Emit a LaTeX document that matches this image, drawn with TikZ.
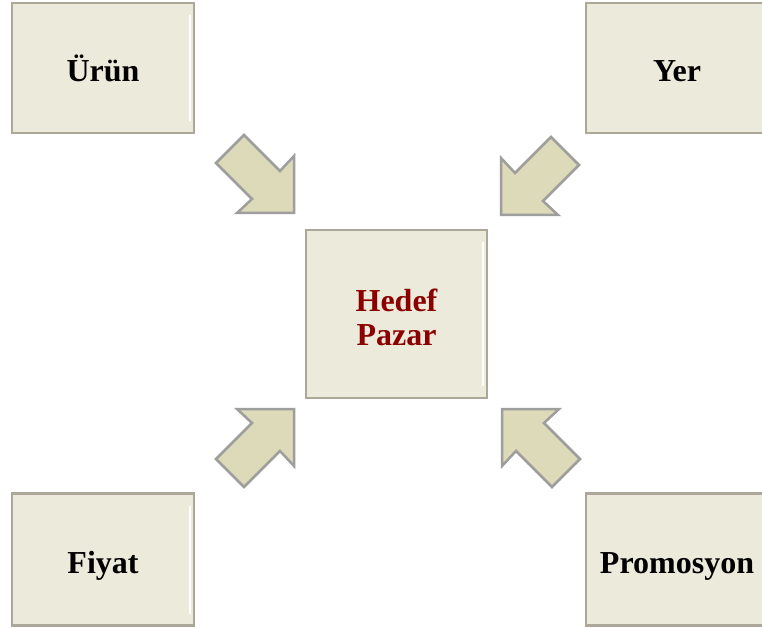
\documentclass[tikz,border=0pt]{standalone}
\usepackage{fontspec}
\setmainfont{Liberation Serif}
\definecolor{boxfill}{HTML}{ECEBDB}
\definecolor{boxline}{HTML}{ACA899}
\definecolor{arrfill}{HTML}{DCDAB8}
\definecolor{arrline}{HTML}{9E9E9C}
\definecolor{dred}{HTML}{8B0000}
\tikzset{
  bigtext/.style={font=\fontsize{32}{36}\selectfont\bfseries},
  box/.style={draw=boxline, fill=boxfill, line width=2.5pt, minimum width=182pt,
    minimum height=130pt, inner sep=0pt, align=center, bigtext,
    text height=27.5pt, text depth=0pt,
    path picture={\draw[white, line width=1.2pt]
      ([xshift=-4pt,yshift=-12pt]path picture bounding box.north east) --
      ([xshift=-4pt,yshift=12pt]path picture bounding box.south east);}},
  redline/.style={bigtext, text=dred, anchor=base, inner sep=0pt},
  arrowshape/.style={draw=arrline, fill=arrfill, line width=2.5pt, line join=miter}
}
\newcommand\blockarr[1]{%
  \begin{scope}[#1]
    \draw[arrowshape] (0,0) -- (0,-57) -- (-14,-42) -- (-50,-78) -- (-78,-50) -- (-42,-14) -- (-57,0) -- cycle;
  \end{scope}}
\begin{document}
\begin{tikzpicture}[x=1pt,y=-1pt]
\useasboundingbox[fill=white] (0,0) rectangle (762,628);
\node[box] (urun) at (103,68) {Ürün};
\node[box] (yer) at (677,68) {Yer};
\node[box, minimum height=132pt] (fiyat) at (103,559.5) {Fiyat};
\node[box, minimum height=132pt] (promo) at (677,559.5) {Promosyon};
\node[box, minimum width=181pt, minimum height=168pt] (hedef) at (396.5,314) {};
\node[redline] (hedef1) at (396.5,311.5) {Hedef};
\node[redline] (hedef2) at (396.5,345) {Pazar};
\blockarr{shift={(294,213)}}
\blockarr{shift={(501,215)}, xscale=-1}
\blockarr{shift={(294,409)}, yscale=-1}
\blockarr{shift={(502,409)}, xscale=-1, yscale=-1}
\end{tikzpicture}
\end{document}
